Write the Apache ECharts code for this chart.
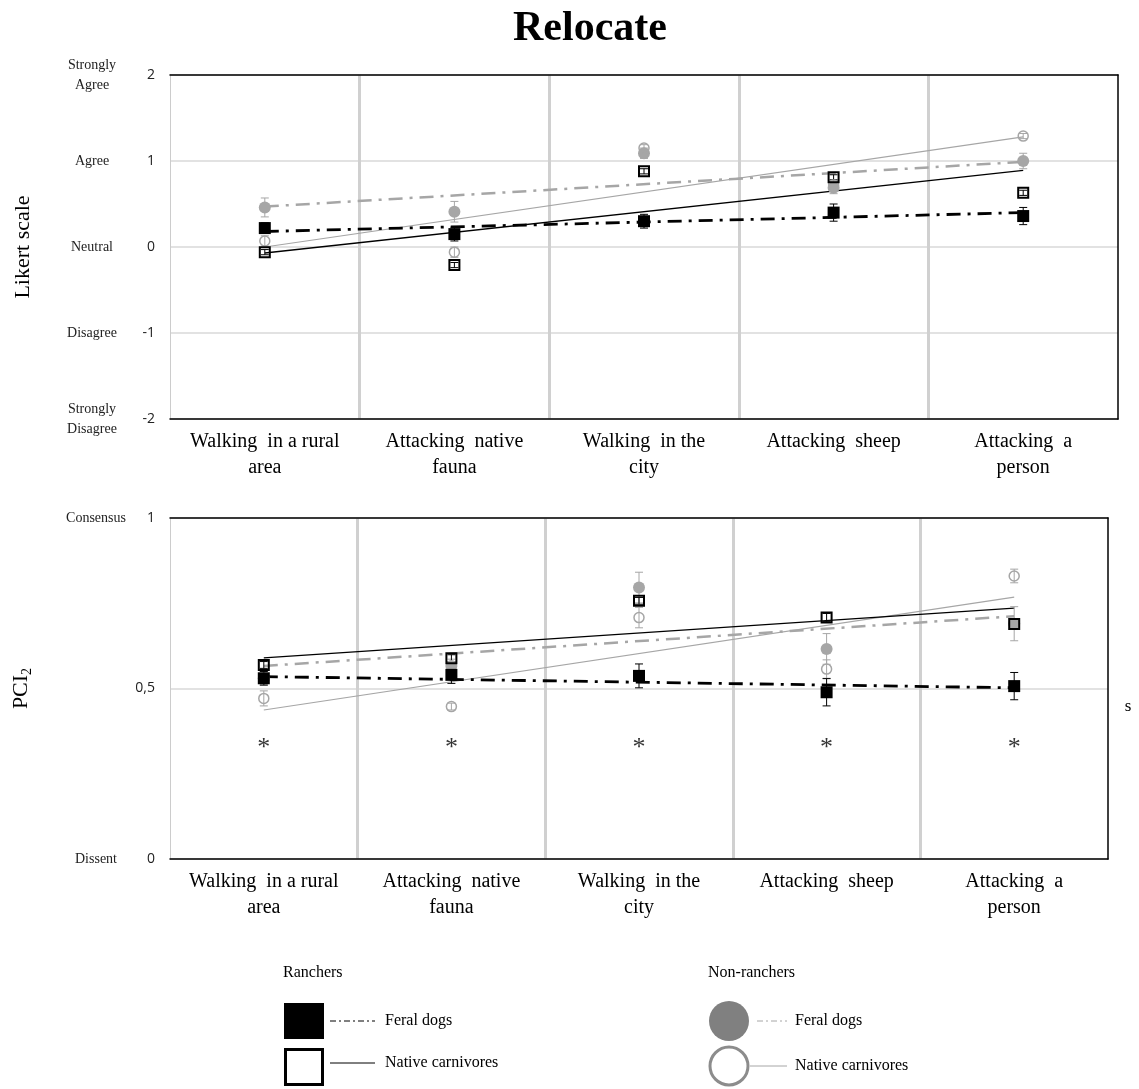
<!DOCTYPE html>
<html>
<head>
<meta charset="utf-8">
<script src="https://cdn.jsdelivr.net/npm/echarts@6/dist/echarts.min.js"></script>
<style>
  html, body { margin: 0; padding: 0; background: #fff; }
  #chart { width: 1139px; height: 1089px; }
</style>
</head>
<body>
<div id="chart"></div>
<script>
// categories shared by both panels
const categories = ['Walking  in a rural\narea', 'Attacking  native\nfauna', 'Walking  in the\ncity', 'Attacking  sheep', 'Attacking  a\nperson']

// top panel: Likert scale means and error bars
const likertRanchFeral = [0.22, 0.15, 0.30, 0.40, 0.36]
const likertRanchFeralErr = [0.06, 0.08, 0.08, 0.10, 0.10]
const likertRanchNative = [-0.06, -0.21, 0.88, 0.81, 0.63]
const likertRanchNativeErr = [0.03, 0.03, 0.03, 0.03, 0.03]
const likertNonFeral = [0.46, 0.41, 1.09, 0.69, 1.00]
const likertNonFeralErr = [0.11, 0.12, 0.06, 0.07, 0.09]
const likertNonNative = [0.07, -0.06, 1.15, 0.72, 1.29]
const likertNonNativeErr = [0.06, 0.06, 0.04, 0.06, 0.03]
// trend line values at first and last category
const likertTrendRanchFeral = [0.18, 0.40]
const likertTrendRanchNative = [-0.07, 0.89]
const likertTrendNonFeral = [0.47, 0.99]
const likertTrendNonNative = [0.00, 1.28]
const likertTicks = ['Strongly\nDisagree', 'Disagree', 'Neutral', 'Agree', 'Strongly\nAgree']

// bottom panel: PCI2
const pciRanchFeral = [0.530, 0.540, 0.537, 0.489, 0.507]
const pciRanchFeralErr = [0.02, 0.025, 0.035, 0.04, 0.04]
const pciRanchNative = [0.569, 0.589, 0.757, 0.708, 0.689]
const pciRanchNativeErr = [0.01, 0.01, 0.01, 0.012, 0.01]
const pciNonFeral = [0.530, 0.566, 0.796, 0.616, 0.690]
const pciNonFeralErr = [0.02, 0.02, 0.045, 0.045, 0.05]
const pciNonNative = [0.471, 0.447, 0.708, 0.557, 0.830]
const pciNonNativeErr = [0.022, 0.01, 0.03, 0.027, 0.02]
const pciTrendRanchFeral = [0.535, 0.502]
const pciTrendRanchNative = [0.590, 0.736]
const pciTrendNonFeral = [0.566, 0.712]
const pciTrendNonNative = [0.437, 0.768]
const pciAsterisk = [0.34, 0.34, 0.34, 0.34, 0.34]
const pciTicks = { 0: 'Dissent', 1: 'Consensus' }

const SERIF = 'Liberation Serif'
const SANS = 'Open Sans'
const GRAY = '#a6a6a6'

const chart = echarts.init(document.getElementById('chart'))

const trendData = (ends) => [ends[0], null, null, null, ends[1]]

const errRender = (color) => (params, api) => {
  const x = api.value(0)
  const v = api.value(1)
  const e = api.value(2)
  const top = api.coord([x, v + e])
  const bot = api.coord([x, v - e])
  const w = 4
  const style = { stroke: color, lineWidth: 1 }
  return {
    type: 'group',
    children: [
      { type: 'line', shape: { x1: top[0], y1: top[1], x2: bot[0], y2: bot[1] }, style },
      { type: 'line', shape: { x1: top[0] - w, y1: top[1], x2: top[0] + w, y2: top[1] }, style },
      { type: 'line', shape: { x1: bot[0] - w, y1: bot[1], x2: bot[0] + w, y2: bot[1] }, style },
    ],
  }
}

const panelSeries = (xi, yi, d) => {
  const base = { xAxisIndex: xi, yAxisIndex: yi, silent: true }
  const line = (ends, color, width, type) => ({
    ...base, type: 'line', data: trendData(ends), connectNulls: true, showSymbol: false, z: 2,
    lineStyle: { color, width, type },
  })
  const err = (vals, errs, color) => ({
    ...base, type: 'custom', z: 3, renderItem: errRender(color),
    encode: { x: 0, y: 1 },
    data: vals.map((v, i) => [i, v, errs[i]]),
  })
  return [
    line(d.trendNonNative, GRAY, 1.2, 'solid'),
    line(d.trendRanchNative, '#000', 1.3, 'solid'),
    line(d.trendNonFeral, GRAY, 2.5, [14, 7, 3, 7]),
    line(d.trendRanchFeral, '#000', 2.8, [14, 7, 3, 7]),
    err(d.nonFeral, d.nonFeralErr, GRAY),
    err(d.nonNative, d.nonNativeErr, GRAY),
    err(d.ranchFeral, d.ranchFeralErr, '#000'),
    err(d.ranchNative, d.ranchNativeErr, '#000'),
    { ...base, type: 'scatter', z: 4, data: d.nonFeral, symbol: 'circle', symbolSize: 12,
      itemStyle: { color: GRAY, opacity: 1 } },
    { ...base, type: 'scatter', z: 4, data: d.nonNative, symbol: 'circle', symbolSize: 10,
      itemStyle: { color: 'transparent', borderColor: GRAY, borderWidth: 1.5, opacity: 1 } },
    { ...base, type: 'scatter', z: 5, data: d.ranchFeral, symbol: 'rect', symbolSize: 12,
      itemStyle: { color: '#000', opacity: 1 } },
    { ...base, type: 'scatter', z: 5, data: d.ranchNative, symbol: 'rect', symbolSize: 10,
      itemStyle: { color: 'transparent', borderColor: '#000', borderWidth: 2, opacity: 1 } },
  ]
}

const catAxis = (gridIndex) => ({
  type: 'category', gridIndex, data: categories, boundaryGap: true,
  axisLine: { onZero: false, lineStyle: { color: '#000', width: 1.5 } },
  axisTick: { show: false },
  axisLabel: { fontFamily: SERIF, fontSize: 20, color: '#000', lineHeight: 26, margin: 10, interval: 0 },
  splitLine: { show: true, showMinLine: false, showMaxLine: false, lineStyle: { color: '#d0d0d0', width: 3 } },
})
// black frame on top and right of each panel
const borderX = (gridIndex) => ({
  type: 'value', gridIndex, position: 'top',
  axisLine: { show: true, onZero: false, lineStyle: { color: '#000', width: 1.5 } },
  axisTick: { show: false }, axisLabel: { show: false }, splitLine: { show: false },
})
const borderY = (gridIndex, min, max) => ({
  type: 'value', gridIndex, position: 'right', min, max,
  axisLine: { show: true, onZero: false, lineStyle: { color: '#000', width: 1.5 } },
  axisTick: { show: false }, axisLabel: { show: false }, splitLine: { show: false },
})

const option = {
  backgroundColor: '#fff',
  animation: false,
  title: {
    text: 'Relocate', left: 508, top: 3,
    textStyle: { fontFamily: SERIF, fontWeight: 'bold', fontSize: 42, color: '#000' },
  },
  grid: [
    { left: 170, top: 75, width: 948, height: 344 },
    { left: 170, top: 518, width: 938, height: 341 },
  ],
  xAxis: [catAxis(0), borderX(0), catAxis(1), borderX(1)],
  yAxis: [
    {
      type: 'value', gridIndex: 0, min: -2, max: 2, interval: 1,
      axisLine: { show: true, onZero: false, lineStyle: { color: '#cccccc', width: 1 } },
      axisTick: { show: false },
      axisLabel: { fontFamily: SANS, fontSize: 14, color: '#222', margin: 15 },
      splitLine: { lineStyle: { color: '#d9d9d9', width: 1.5 } },
    },
    {
      type: 'value', gridIndex: 0, position: 'left', min: -2, max: 2, interval: 1,
      axisLine: { show: false }, axisTick: { show: false }, splitLine: { show: false },
      axisLabel: {
        fontFamily: SERIF, fontSize: 14, color: '#222', margin: 78, align: 'center', lineHeight: 20,
        formatter: (v) => likertTicks[v + 2],
      },
      name: 'Likert scale', nameLocation: 'middle', nameGap: 136, nameRotate: 90,
      nameTextStyle: { fontFamily: SERIF, fontSize: 22, color: '#000' },
    },
    borderY(0, -2, 2),
    {
      type: 'value', gridIndex: 1, min: 0, max: 1, interval: 0.5,
      axisLine: { show: true, onZero: false, lineStyle: { color: '#cccccc', width: 1 } },
      axisTick: { show: false },
      axisLabel: { fontFamily: SANS, fontSize: 14, color: '#222', margin: 15, formatter: (v) => String(v).replace('.', ',') },
      splitLine: { lineStyle: { color: '#d9d9d9', width: 1.5 } },
    },
    {
      type: 'value', gridIndex: 1, position: 'left', min: 0, max: 1, interval: 0.5,
      axisLine: { show: false }, axisTick: { show: false }, splitLine: { show: false },
      axisLabel: {
        fontFamily: SERIF, fontSize: 14, color: '#222', margin: 74, align: 'center',
        formatter: (v) => pciTicks[v] || '',
      },
      name: 'PCI{s|2}', nameLocation: 'middle', nameGap: 136, nameRotate: 90,
      nameTextStyle: { fontFamily: SERIF, fontSize: 22, color: '#000', rich: { s: { fontFamily: SERIF, fontSize: 14, verticalAlign: 'bottom', padding: [12, 0, 0, 0] } } },
    },
    borderY(1, 0, 1),
  ],
  series: [
    ...panelSeries(0, 0, {
      ranchFeral: likertRanchFeral, ranchFeralErr: likertRanchFeralErr,
      ranchNative: likertRanchNative, ranchNativeErr: likertRanchNativeErr,
      nonFeral: likertNonFeral, nonFeralErr: likertNonFeralErr,
      nonNative: likertNonNative, nonNativeErr: likertNonNativeErr,
      trendRanchFeral: likertTrendRanchFeral, trendRanchNative: likertTrendRanchNative,
      trendNonFeral: likertTrendNonFeral, trendNonNative: likertTrendNonNative,
    }),
    ...panelSeries(2, 3, {
      ranchFeral: pciRanchFeral, ranchFeralErr: pciRanchFeralErr,
      ranchNative: pciRanchNative, ranchNativeErr: pciRanchNativeErr,
      nonFeral: pciNonFeral, nonFeralErr: pciNonFeralErr,
      nonNative: pciNonNative, nonNativeErr: pciNonNativeErr,
      trendRanchFeral: pciTrendRanchFeral, trendRanchNative: pciTrendRanchNative,
      trendNonFeral: pciTrendNonFeral, trendNonNative: pciTrendNonNative,
    }),
    {
      type: 'scatter', xAxisIndex: 2, yAxisIndex: 3, silent: true, data: pciAsterisk,
      symbol: 'circle', symbolSize: 1, itemStyle: { color: 'transparent' },
      label: { show: true, position: 'inside', formatter: '*', fontFamily: SERIF, fontSize: 26, color: '#000', offset: [0, 5] },
    },
  ],
  graphic: [
    { type: 'text', x: 1128, y: 707, style: { text: 's', fontFamily: SERIF, fontSize: 17, fill: '#000', align: 'center', verticalAlign: 'middle' } },
    // legend: ranchers
    { type: 'text', x: 283, y: 973, style: { text: 'Ranchers', fontFamily: SERIF, fontSize: 16, fill: '#000', verticalAlign: 'middle' } },
    { type: 'rect', shape: { x: 284, y: 1003, width: 40, height: 36 }, style: { fill: '#000' } },
    { type: 'line', shape: { x1: 330, y1: 1021, x2: 375, y2: 1021 }, style: { stroke: '#000', lineWidth: 1, lineDash: [6, 3, 2, 3] } },
    { type: 'text', x: 385, y: 1021, style: { text: 'Feral dogs', fontFamily: SERIF, fontSize: 16, fill: '#000', verticalAlign: 'middle' } },
    { type: 'rect', shape: { x: 285.5, y: 1049.5, width: 37, height: 35 }, style: { fill: '#fff', stroke: '#000', lineWidth: 3 } },
    { type: 'line', shape: { x1: 330, y1: 1063, x2: 375, y2: 1063 }, style: { stroke: '#000', lineWidth: 1 } },
    { type: 'text', x: 385, y: 1063, style: { text: 'Native carnivores', fontFamily: SERIF, fontSize: 16, fill: '#000', verticalAlign: 'middle' } },
    // legend: non-ranchers
    { type: 'text', x: 708, y: 973, style: { text: 'Non-ranchers', fontFamily: SERIF, fontSize: 16, fill: '#000', verticalAlign: 'middle' } },
    { type: 'circle', shape: { cx: 729, cy: 1021, r: 20 }, style: { fill: '#808080' } },
    { type: 'line', shape: { x1: 757, y1: 1021, x2: 787, y2: 1021 }, style: { stroke: GRAY, lineWidth: 1, lineDash: [6, 3, 2, 3] } },
    { type: 'text', x: 795, y: 1021, style: { text: 'Feral dogs', fontFamily: SERIF, fontSize: 16, fill: '#000', verticalAlign: 'middle' } },
    { type: 'circle', shape: { cx: 729, cy: 1066, r: 19 }, style: { fill: '#fff', stroke: '#8c8c8c', lineWidth: 3 } },
    { type: 'line', shape: { x1: 750, y1: 1066, x2: 787, y2: 1066 }, style: { stroke: GRAY, lineWidth: 1 } },
    { type: 'text', x: 795, y: 1066, style: { text: 'Native carnivores', fontFamily: SERIF, fontSize: 16, fill: '#000', verticalAlign: 'middle' } },
  ],
}

chart.setOption(option)
</script>
</body>
</html>
